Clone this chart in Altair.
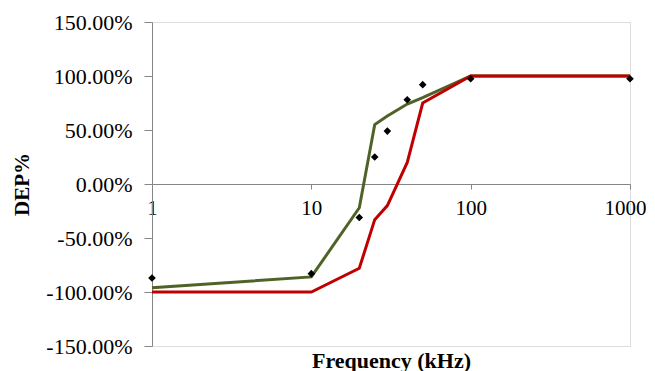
import altair as alt
import pandas as pd

# Frequencies (kHz)
freq = [1, 10, 20, 25, 30, 40, 50, 100, 1000]
# Green model curve (DEP %)
model_green = [-96, -86, -22, 55, 63, 74, 80, 100, 100]
# Red model curve (DEP %)
model_red = [-100, -100, -78, -33, -20, 20, 75, 100, 100]
# Measured points (DEP %)
measured = [-87, -83, -31, 25, 49, 78, 92, 97.5, 97.5]

series_names = ["Green", "Red"]
series_colors = ["#4F6228", "#C00000"]

x_ticks = [1, 10, 100, 1000]
y_ticks = [-150, -100, -50, 0, 50, 100, 150]

rows = []
for name, vals in zip(series_names, [model_green, model_red]):
    for f, v in zip(freq, vals):
        rows.append({"freq": f, "dep": v, "series": name})
lines_df = pd.DataFrame(rows)
pts_df = pd.DataFrame({"freq": freq, "dep": measured})

FONT = "Liberation Serif"
AXIS_GRAY = "#868686"

x_scale = alt.Scale(type="log", domain=[1, 1000], nice=False)
y_scale = alt.Scale(domain=[-150, 150], nice=False, zero=False)

x_axis = alt.Axis(
    values=x_ticks, format="d", offset=-162, grid=False,
    domainColor=AXIS_GRAY, tickColor=AXIS_GRAY, tickSize=5,
    labelPadding=8, labelFont=FONT, labelFontSize=21, labelColor="black",
    labelFlush=False, labelOverlap=False,
    labelOffset={"condition": {"test": "datum.value >= 1000", "value": -5}, "value": 0},
    title="Frequency (kHz)", titleFont=FONT, titleFontSize=22,
    titleFontWeight="bold", titleColor="black",
    titleX=239, titleY=183, titleBaseline="alphabetic", titleAlign="center",
)
y_axis = alt.Axis(
    values=y_ticks, grid=False,
    labelExpr="(datum.value < 0 ? '-' : '') + format(abs(datum.value), '.2f') + '%'",
    domainColor=AXIS_GRAY, tickColor=AXIS_GRAY, tickSize=8,
    labelPadding=12, labelFont=FONT, labelFontSize=22, labelColor="black",
    labelOverlap=False,
    title="DEP%", titleFont=FONT, titleFontSize=21, titleFontWeight="bold",
    titleColor="black", titleX=-130, titleY=162, titleBaseline="middle",
    titleAlign="center",
)

lines = alt.Chart(lines_df).mark_line(strokeWidth=3).encode(
    x=alt.X("freq:Q", scale=x_scale, axis=x_axis),
    y=alt.Y("dep:Q", scale=y_scale, axis=y_axis),
    color=alt.Color("series:N", scale=alt.Scale(domain=series_names, range=series_colors), legend=None),
)

points = alt.Chart(pts_df).mark_point(shape="diamond", filled=True, color="black", size=58, opacity=1).encode(
    x=alt.X("freq:Q", scale=x_scale),
    y=alt.Y("dep:Q", scale=y_scale),
)

chart = alt.layer(lines, points).properties(
    width=478, height=324,
    autosize=alt.AutoSizeParams(type="none"),
    padding={"left": 144, "top": 14, "right": 17, "bottom": 25},
).configure_view(stroke=None).configure(background="white")

chart.save("out.html", embed_options={"renderer": "svg", "actions": False})
